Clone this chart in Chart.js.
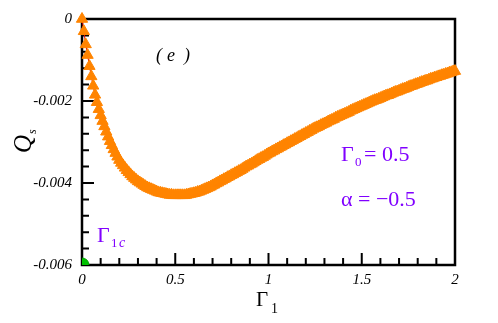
<!DOCTYPE html>
<html>
<head>
<meta charset="utf-8">
<script src="https://cdn.jsdelivr.net/npm/chart.js"></script>
<style>
  html, body { margin: 0; padding: 0; background: #fff; }
  canvas { display: block; }
</style>
</head>
<body>
<canvas id="grafico" width="498" height="323"></canvas>
<script>
// datos
const gamma1 = [
  0.00, 0.01, 0.02, 0.03, 0.04, 0.05, 0.06, 0.07, 0.08, 0.09,
  0.10, 0.11, 0.12, 0.13, 0.14, 0.15, 0.16, 0.17, 0.18, 0.19,
  0.20, 0.21, 0.22, 0.23, 0.24, 0.25, 0.26, 0.27, 0.28, 0.29,
  0.30, 0.31, 0.32, 0.33, 0.34, 0.35, 0.36, 0.37, 0.38, 0.39,
  0.40, 0.41, 0.42, 0.43, 0.44, 0.45, 0.46, 0.47, 0.48, 0.49,
  0.50, 0.51, 0.52, 0.53, 0.54, 0.55, 0.56, 0.57, 0.58, 0.59,
  0.60, 0.61, 0.62, 0.63, 0.64, 0.65, 0.66, 0.67, 0.68, 0.69,
  0.70, 0.71, 0.72, 0.73, 0.74, 0.75, 0.76, 0.77, 0.78, 0.79,
  0.80, 0.81, 0.82, 0.83, 0.84, 0.85, 0.86, 0.87, 0.88, 0.89,
  0.90, 0.91, 0.92, 0.93, 0.94, 0.95, 0.96, 0.97, 0.98, 0.99,
  1.00, 1.01, 1.02, 1.03, 1.04, 1.05, 1.06, 1.07, 1.08, 1.09,
  1.10, 1.11, 1.12, 1.13, 1.14, 1.15, 1.16, 1.17, 1.18, 1.19,
  1.20, 1.21, 1.22, 1.23, 1.24, 1.25, 1.26, 1.27, 1.28, 1.29,
  1.30, 1.31, 1.32, 1.33, 1.34, 1.35, 1.36, 1.37, 1.38, 1.39,
  1.40, 1.41, 1.42, 1.43, 1.44, 1.45, 1.46, 1.47, 1.48, 1.49,
  1.50, 1.51, 1.52, 1.53, 1.54, 1.55, 1.56, 1.57, 1.58, 1.59,
  1.60, 1.61, 1.62, 1.63, 1.64, 1.65, 1.66, 1.67, 1.68, 1.69,
  1.70, 1.71, 1.72, 1.73, 1.74, 1.75, 1.76, 1.77, 1.78, 1.79,
  1.80, 1.81, 1.82, 1.83, 1.84, 1.85, 1.86, 1.87, 1.88, 1.89,
  1.90, 1.91, 1.92, 1.93, 1.94, 1.95, 1.96, 1.97, 1.98, 1.99,
  2.00
];
const qs = [
  0, -0.00030, -0.00062, -0.00088, -0.00115, -0.00140, -0.00163, -0.00185, -0.00203, -0.00220,
  -0.00235, -0.00249, -0.00262, -0.00275, -0.00287, -0.00298, -0.00308, -0.00318, -0.00327, -0.00336,
  -0.00344, -0.00351, -0.00357, -0.00363, -0.00369, -0.00374, -0.00379, -0.00384, -0.00388, -0.00392,
  -0.00396, -0.00399, -0.00402, -0.00405, -0.00408, -0.00411, -0.00413, -0.00415, -0.00417, -0.00419,
  -0.00421, -0.00423, -0.00424, -0.00425, -0.00426, -0.00427, -0.00428, -0.00429, -0.00429, -0.00430,
  -0.00430, -0.00430, -0.00430, -0.00430, -0.00430, -0.00430, -0.00429, -0.00428, -0.00427, -0.00426,
  -0.00425, -0.00424, -0.00422, -0.00421, -0.00419, -0.00417, -0.00415, -0.00413, -0.00411, -0.00409,
  -0.00406, -0.00404, -0.00401, -0.00399, -0.00396, -0.00394, -0.00391, -0.00389, -0.00386, -0.00384,
  -0.00381, -0.00379, -0.00376, -0.00374, -0.00371, -0.00369, -0.00366, -0.00363, -0.00360, -0.00358,
  -0.00355, -0.00353, -0.00350, -0.00347, -0.00344, -0.00342, -0.00339, -0.00337, -0.00334, -0.00331,
  -0.00328, -0.00326, -0.00323, -0.00321, -0.00318, -0.00316, -0.00313, -0.00311, -0.00308, -0.00306,
  -0.00303, -0.00301, -0.00298, -0.00296, -0.00293, -0.00291, -0.00288, -0.00286, -0.00283, -0.00281,
  -0.00278, -0.00276, -0.00273, -0.00271, -0.00268, -0.00266, -0.00264, -0.00262, -0.00259, -0.00257,
  -0.00255, -0.00253, -0.00250, -0.00248, -0.00246, -0.00244, -0.00241, -0.00239, -0.00237, -0.00235,
  -0.00233, -0.00231, -0.00229, -0.00227, -0.00224, -0.00222, -0.00220, -0.00218, -0.00216, -0.00214,
  -0.00212, -0.00210, -0.00208, -0.00206, -0.00204, -0.00202, -0.00200, -0.00198, -0.00197, -0.00195,
  -0.00193, -0.00191, -0.00189, -0.00187, -0.00186, -0.00184, -0.00182, -0.00180, -0.00178, -0.00177,
  -0.00175, -0.00173, -0.00171, -0.00170, -0.00168, -0.00166, -0.00164, -0.00163, -0.00161, -0.00159,
  -0.00158, -0.00156, -0.00154, -0.00153, -0.00151, -0.00150, -0.00148, -0.00146, -0.00145, -0.00143,
  -0.00142, -0.00140, -0.00139, -0.00137, -0.00136, -0.00134, -0.00133, -0.00131, -0.00130, -0.00128,
  -0.00127
];
const gamma1c = [0];
const qs1c = [-0.006];

const xTicks = [0, 0.5, 1, 1.5, 2];
const xLabels = ['0', '0.5', '1', '1.5', '2'];
const yTicks = [0, -0.002, -0.004, -0.006];
const yLabels = ['0', '-0.002', '-0.004', '-0.006'];

const naranja = '#ff8400';
const morado = '#8000ff';
const serif = '"Liberation Serif", "DejaVu Serif", serif';

const puntos = (xs, ys) => xs.map((v, i) => ({ x: v, y: ys[i] }));

const marco = {
  id: 'marco',
  beforeDatasetsDraw(chart) {
    const { ctx, chartArea: a, scales: { x, y } } = chart;
    ctx.save();
    ctx.strokeStyle = '#000';
    ctx.lineWidth = 2;
    ctx.beginPath();
    for (let i = 0; i <= 20; i++) {
      const px = x.getPixelForValue(i * 0.1);
      const largo = (i % 5 === 0) ? 12 : 7;
      ctx.moveTo(px, a.bottom);
      ctx.lineTo(px, a.bottom - largo);
    }
    for (let i = 0; i <= 15; i++) {
      const py = y.getPixelForValue(-i * 0.0004);
      const largo = (i % 5 === 0) ? 12 : 7;
      ctx.moveTo(a.left, py);
      ctx.lineTo(a.left + largo, py);
    }
    ctx.stroke();
    ctx.lineWidth = 2.5;
    ctx.strokeRect(a.left, a.top, a.right - a.left, a.bottom - a.top);
    ctx.restore();
  },
  afterDraw(chart) {
    const { ctx } = chart;
    ctx.save();
    ctx.textBaseline = 'alphabetic';

    // titulo eje y
    ctx.fillStyle = '#000';
    ctx.translate(31, 153);
    ctx.rotate(-Math.PI / 2);
    ctx.font = `italic 25px ${serif}`;
    ctx.fillText('Q', 0, 0);
    const wq = ctx.measureText('Q').width;
    ctx.font = `italic 12px ${serif}`;
    ctx.fillText('s', wq + 1, 5);
    ctx.setTransform(1, 0, 0, 1, 0, 0);

    // titulo eje x
    ctx.font = `21px ${serif}`;
    ctx.fillText('\u0393', 256, 306);
    ctx.font = `14px ${serif}`;
    ctx.fillText('1', 271, 313);

    // ( e )
    ctx.font = `italic 18px ${serif}`;
    ctx.fillText('(', 156, 61);
    ctx.fillText('e', 167, 61);
    ctx.fillText(')', 184, 61);

    ctx.fillStyle = morado;
    ctx.font = `22px ${serif}`;
    ctx.fillText('\u0393', 341, 161);
    ctx.font = `13px ${serif}`;
    ctx.fillText('0', 355, 166);
    ctx.font = `22px ${serif}`;
    ctx.fillText('= 0.5', 364, 161);

    ctx.fillText('\u03b1 = \u22120.5', 341, 206);

    ctx.fillText('\u0393', 97, 242);
    ctx.font = `13px ${serif}`;
    ctx.fillText('1', 111, 247);
    ctx.font = `italic 14px ${serif}`;
    ctx.fillText('c', 119, 247);
    ctx.restore();
  }
};

const ctx = document.getElementById('grafico');
const myChart = new Chart(ctx, {
  type: 'scatter',
  data: {
    datasets: [
      {
        label: 'Qs',
        data: puntos(gamma1, qs),
        showLine: true,
        borderColor: '#e00000',
        borderWidth: 1,
        pointStyle: 'triangle',
        pointRadius: 6.5,
        pointBackgroundColor: naranja,
        pointBorderColor: naranja,
        pointBorderWidth: 1,
        clip: false,
        order: 1
      },
      {
        label: 'Gamma1c',
        data: puntos(gamma1c, qs1c),
        pointStyle: 'circle',
        pointRadius: 7,
        pointBackgroundColor: '#00c000',
        pointBorderColor: '#00a000',
        pointBorderWidth: 1,
        clip: 0,
        order: 2
      }
    ]
  },
  options: {
    responsive: false,
    animation: false,
    devicePixelRatio: 1,
    layout: { padding: { left: 0, top: 18, right: 43, bottom: 0 } },
    plugins: { legend: { display: false }, tooltip: { enabled: false } },
    scales: {
      x: {
        type: 'linear',
        min: 0,
        max: 2,
        afterFit: s => { s.height = 58; },
        afterBuildTicks: s => { s.ticks = xTicks.map(v => ({ value: v })); },
        grid: { display: false, drawTicks: false },
        border: { display: false },
        ticks: {
          padding: 6,
          color: '#000',
          font: { family: serif, style: 'italic', size: 15 },
          callback: (v, i) => xLabels[i]
        }
      },
      y: {
        type: 'linear',
        min: -0.006,
        max: 0,
        afterFit: s => { s.width = 82; },
        afterBuildTicks: s => { s.ticks = yTicks.map(v => ({ value: v })).reverse(); },
        grid: { display: false, drawTicks: false },
        border: { display: false },
        ticks: {
          padding: 10,
          color: '#000',
          font: { family: serif, style: 'italic', size: 15 },
          callback: v => yLabels[yTicks.indexOf(v)]
        }
      }
    }
  },
  plugins: [marco]
});
</script>
</body>
</html>
